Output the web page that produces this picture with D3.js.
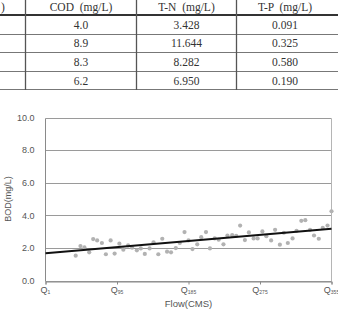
<!DOCTYPE html>
<html>
<head>
<meta charset="utf-8">
<script src="https://cdn.jsdelivr.net/npm/d3@7"></script>
<style>
  body { margin: 0; background: #fff; }
  svg { display: block; }
</style>
</head>
<body>
<script>
// ---- table data (top part of the page, cropped) ----
const tableHeaders = [")", "COD  (mg/L)", "T-N  (mg/L)", "T-P  (mg/L)"];
const codValues = ["4.0", "8.9", "8.3", "6.2"];
const tnValues = ["3.428", "11.644", "8.282", "6.950"];
const tpValues = ["0.091", "0.325", "0.580", "0.190"];

// ---- chart data ----
const flowDays = [38, 44, 49, 55, 60, 65, 71, 76, 82, 87, 93, 98, 104, 109, 115, 120, 125, 131, 136, 142,
  147, 153, 158, 164, 169, 175, 180, 185, 191, 196, 202, 207, 213, 218, 224, 229, 235, 240, 245, 251,
  256, 262, 267, 273, 278, 284, 289, 295, 300, 305, 311, 316, 322, 327, 333, 338, 344, 349, 355, 360];
const bodValues = [1.52, 2.11, 2.03, 1.73, 2.54, 2.46, 2.30, 1.61, 2.46, 1.65, 2.26, 1.89, 2.15, 2.01, 1.85,
  1.97, 1.63, 1.97, 2.34, 1.61, 2.56, 1.77, 1.73, 1.99, 2.30, 2.97, 2.46, 1.93, 2.22, 2.66,
  2.97, 1.97, 2.58, 2.50, 2.22, 2.76, 2.78, 2.74, 3.37, 2.48, 2.95, 2.58, 2.58, 3.01, 2.72,
  2.46, 3.11, 2.20, 2.93, 2.30, 2.58, 3.05, 3.66, 3.70, 3.11, 2.76, 2.56, 3.23, 3.37, 4.25];
const trendDays = [0, 360];
const trendValues = [1.67, 3.17];
const xTickDays = [0, 90, 180, 270, 360];
const xTickSubs = ["1", "95", "185", "275", "355"];
const yTicks = [0, 2, 4, 6, 8, 10];

const width = 338, height = 309;

const svg = d3.select("body").append("svg")
  .attr("width", width)
  .attr("height", height);

// ===== table =====
const colEdges = [25.5, 136.5, 236.5];
const colCenters = [1, 81, 186.5, 285];
const headerLineY = 15;
const rowY = d3.scaleBand().domain(d3.range(4)).range([15, 89.4]);

const table = svg.append("g")
  .style("font-family", "'Liberation Serif', 'DejaVu Serif', serif")
  .style("font-size", "11.5px")
  .style("fill", "#333");

table.selectAll("text.head")
  .data(tableHeaders)
  .enter().append("text")
  .attr("class", "head")
  .attr("x", (d, i) => colCenters[i])
  .attr("y", 7)
  .attr("dy", "0.35em")
  .attr("text-anchor", (d, i) => i === 0 ? "start" : "middle")
  .style("white-space", "pre")
  .text(d => d);

const rows = d3.range(4).map(i => [codValues[i], tnValues[i], tpValues[i]]);
rows.forEach((r, i) => {
  table.selectAll("text.r" + i)
    .data(r)
    .enter().append("text")
    .attr("class", "r" + i)
    .attr("x", (d, j) => colCenters[j + 1])
    .attr("y", rowY(i) + rowY.bandwidth() / 2 + 0.5)
    .attr("dy", "0.35em")
    .attr("text-anchor", "middle")
    .text(d => d);
});

// horizontal rules
table.append("line")
  .attr("x1", 0).attr("x2", width)
  .attr("y1", headerLineY).attr("y2", headerLineY)
  .attr("stroke", "#333").attr("stroke-width", 2);
table.selectAll("line.row")
  .data(d3.range(1, 5))
  .enter().append("line")
  .attr("class", "row")
  .attr("x1", 0).attr("x2", width)
  .attr("y1", d => Math.round(rowY(d - 1) + rowY.bandwidth()) + 0.5)
  .attr("y2", d => Math.round(rowY(d - 1) + rowY.bandwidth()) + 0.5)
  .attr("stroke", "#777").attr("stroke-width", 1);
// vertical rules
table.selectAll("line.col")
  .data(colEdges)
  .enter().append("line")
  .attr("class", "col")
  .attr("x1", d => d).attr("x2", d => d)
  .attr("y1", 0).attr("y2", 90)
  .attr("stroke", "#555").attr("stroke-width", 1.3);

// ===== scatter chart =====
const plotLeft = 45.5, plotRight = 331.5, plotTop = 117.5, plotBottom = 280.5;

const x = d3.scaleLinear().domain([0, 360]).range([plotLeft, plotRight]);
const y = d3.scaleLinear().domain([0, 10]).range([plotBottom, plotTop]);

const chart = svg.append("g")
  .style("font-family", "'Liberation Sans', Arial, sans-serif");

// gridlines
chart.append("g")
  .selectAll("line")
  .data(yTicks)
  .enter().append("line")
  .attr("x1", plotLeft).attr("x2", plotRight)
  .attr("y1", d => Math.round(y(d)) + 0.5)
  .attr("y2", d => Math.round(y(d)) + 0.5)
  .attr("stroke", "#9a9a9a")
  .attr("stroke-width", 1);

// right border
chart.append("line")
  .attr("x1", plotRight).attr("x2", plotRight)
  .attr("y1", Math.round(y(10)) + 0.5).attr("y2", Math.round(y(0)) + 0.5)
  .attr("stroke", "#b5b5b5");

// left axis
const yAxis = chart.append("g")
  .attr("transform", `translate(${plotLeft},0)`)
  .call(d3.axisLeft(y).tickValues(yTicks).tickSize(0).tickPadding(11).tickFormat(d3.format(".1f")));
yAxis.select(".domain").attr("stroke", "#8a8a8a").attr("d", `M0,${Math.round(y(10)) + 0.5}V${Math.round(y(0)) + 0.5}`);
yAxis.selectAll("text")
  .style("font-family", "'Liberation Sans', Arial, sans-serif")
  .style("font-size", "9px")
  .attr("fill", "#555");

// bottom axis
const xAxis = chart.append("g")
  .attr("transform", `translate(0,${Math.round(y(0)) + 0.5})`)
  .call(d3.axisBottom(x).tickValues(xTickDays).tickSize(3).tickFormat(""));
xAxis.select(".domain").attr("stroke", "#8a8a8a");
xAxis.selectAll(".tick line").attr("stroke", "#8a8a8a");

const xLabels = chart.append("g")
  .selectAll("text")
  .data(xTickDays)
  .enter().append("text")
  .attr("x", d => x(d))
  .attr("y", 293)
  .attr("text-anchor", "middle")
  .attr("fill", "#555")
  .style("font-size", "9px");
xLabels.append("tspan").text("Q");
xLabels.append("tspan")
  .attr("dy", 1)
  .style("font-size", "5px")
  .text((d, i) => xTickSubs[i]);

// axis titles
chart.append("text")
  .attr("transform", `translate(10.5,${(plotTop + plotBottom) / 2}) rotate(-90)`)
  .attr("text-anchor", "middle")
  .attr("fill", "#555")
  .style("font-size", "9px")
  .text("BOD(mg/L)");

chart.append("text")
  .attr("x", (plotLeft + plotRight) / 2)
  .attr("y", 307)
  .attr("text-anchor", "middle")
  .attr("fill", "#555")
  .style("font-size", "9.5px")
  .text("Flow(CMS)");

// points
chart.append("g")
  .selectAll("circle")
  .data(flowDays)
  .enter().append("circle")
  .attr("cx", d => x(d))
  .attr("cy", (d, i) => y(bodValues[i]))
  .attr("r", 2.1)
  .attr("fill", "#b2b2b2");

// trend line
chart.append("path")
  .datum(trendDays.map((d, i) => [d, trendValues[i]]))
  .attr("fill", "none")
  .attr("stroke", "#111")
  .attr("stroke-width", 2)
  .attr("d", d3.line().x(d => x(d[0])).y(d => y(d[1])));
</script>
</body>
</html>
